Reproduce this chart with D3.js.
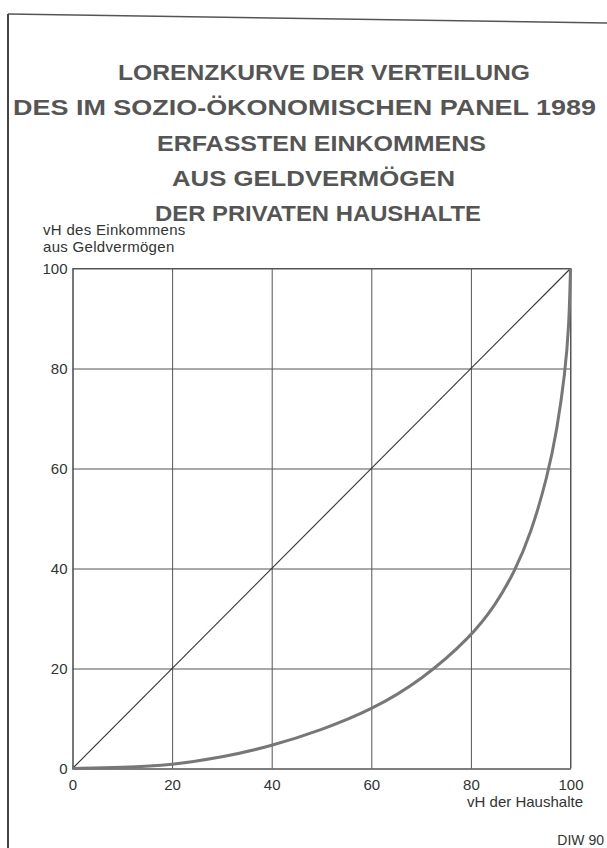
<!DOCTYPE html>
<html>
<head>
<meta charset="utf-8">
<script src="https://cdn.jsdelivr.net/npm/d3@7"></script>
<style>
body{margin:0;background:#fff;}
svg{display:block;}
</style>
</head>
<body>
<div id="chart"></div>
<script>
var titleLines=["LORENZKURVE DER VERTEILUNG","DES IM SOZIO-ÖKONOMISCHEN PANEL 1989","ERFASSTEN EINKOMMENS","AUS GELDVERMÖGEN","DER PRIVATEN HAUSHALTE"];
var yTitle=["vH des Einkommens","aus Geldvermögen"];
var xTitle="vH der Haushalte";
var source="DIW 90";
var xTicks=[0,20,40,60,80,100];
var yTicks=[0,20,40,60,80,100];
// Lorenzkurve
var haushalte=[0,10,20,30,40,50,60,70,80,85,88.7,92,95.4,97.3,98.9,99.7,100];
var einkommen=[0,0.2,0.7,2.2,4.5,7.7,11.7,17.6,26.3,32.8,39.2,46.8,58.5,67.8,79,88.5,100];
var gleich=[0,100];

var W=607,H=848;
var svg=d3.select("#chart").append("svg").attr("width",W).attr("height",H);

// Rahmen (Scan leicht schief)
svg.append("line").attr("x1",8).attr("y1",14).attr("x2",607).attr("y2",23)
	.attr("stroke","#555").attr("stroke-width",1.5);
svg.append("line").attr("x1",8).attr("y1",14).attr("x2",8).attr("y2",848)
	.attr("stroke","#444").attr("stroke-width",2);

// Titel: Start-x, Breite, Grundlinie
var titlePos=[[118,412,80],[13,583,115.3],[157,329,150.6],[172,283,185.9],[155,326,221.2]];
svg.selectAll(".title").data(titleLines).enter().append("text")
	.attr("class","title")
	.attr("x",function(d,i){return titlePos[i][0];})
	.attr("y",function(d,i){return titlePos[i][2];})
	.attr("textLength",function(d,i){return titlePos[i][1];})
	.attr("lengthAdjust","spacingAndGlyphs")
	.attr("font-family","Liberation Sans, Arial, sans-serif")
	.attr("font-weight","bold")
	.attr("font-size",21.5)
	.attr("fill","#555")
	.text(function(d){return d;});

var x=d3.scaleLinear().domain([0,100]).range([72.5,570.5]);
var y=d3.scaleLinear().domain([0,100]).range([768.5,268.5]);
var pw=x(100)-x(0), ph=y(0)-y(100);

var font="Liberation Sans, Arial, sans-serif";

var gx=svg.append("g").attr("transform","translate(0,"+y(0)+")")
	.call(d3.axisBottom(x).tickValues(xTicks).tickSize(-ph).tickSizeOuter(0).tickPadding(11));
var gy=svg.append("g").attr("transform","translate("+x(0)+",0)")
	.call(d3.axisLeft(y).tickValues(yTicks).tickSize(-pw).tickSizeOuter(0).tickPadding(5));
[gx,gy].forEach(function(g){
	g.selectAll("line").attr("stroke","#555").attr("stroke-width",1);
	g.select(".domain").attr("stroke","#555").attr("stroke-width",1.2);
	g.selectAll("text").attr("font-family",font).attr("font-size",15).attr("fill","#333");
});
// obere und rechte Begrenzung
svg.append("line").attr("x1",x(0)).attr("x2",x(100)).attr("y1",y(100)).attr("y2",y(100))
	.attr("stroke","#555").attr("stroke-width",1);
svg.append("line").attr("x1",x(100)).attr("x2",x(100)).attr("y1",y(0)).attr("y2",y(100))
	.attr("stroke","#555").attr("stroke-width",1);

// Gleichverteilung
svg.append("path").datum(gleich)
	.attr("d",d3.line().x(function(d){return x(d);}).y(function(d){return y(d);}))
	.attr("fill","none").attr("stroke","#333").attr("stroke-width",1.1);

// Lorenzkurve
svg.append("path").datum(d3.range(haushalte.length))
	.attr("d",d3.line().curve(d3.curveBasis)
		.x(function(i){return x(haushalte[i]);})
		.y(function(i){return y(einkommen[i]);}))
	.attr("fill","none").attr("stroke","#777").attr("stroke-width",3);

// Achsentitel
svg.selectAll(".ytitle").data(yTitle).enter().append("text")
	.attr("x",43).attr("y",function(d,i){return 235+i*16.5;})
	.attr("font-family",font).attr("font-size",15).attr("fill","#333")
	.attr("letter-spacing",0.3)
	.text(function(d){return d;});
svg.append("text").attr("x",583).attr("y",807).attr("text-anchor","end")
	.attr("font-family",font).attr("font-size",15).attr("fill","#333")
	.text(xTitle);
svg.append("text").attr("x",604).attr("y",845).attr("text-anchor","end")
	.attr("font-family",font).attr("font-size",14).attr("fill","#333")
	.text(source);
</script>
</body>
</html>
